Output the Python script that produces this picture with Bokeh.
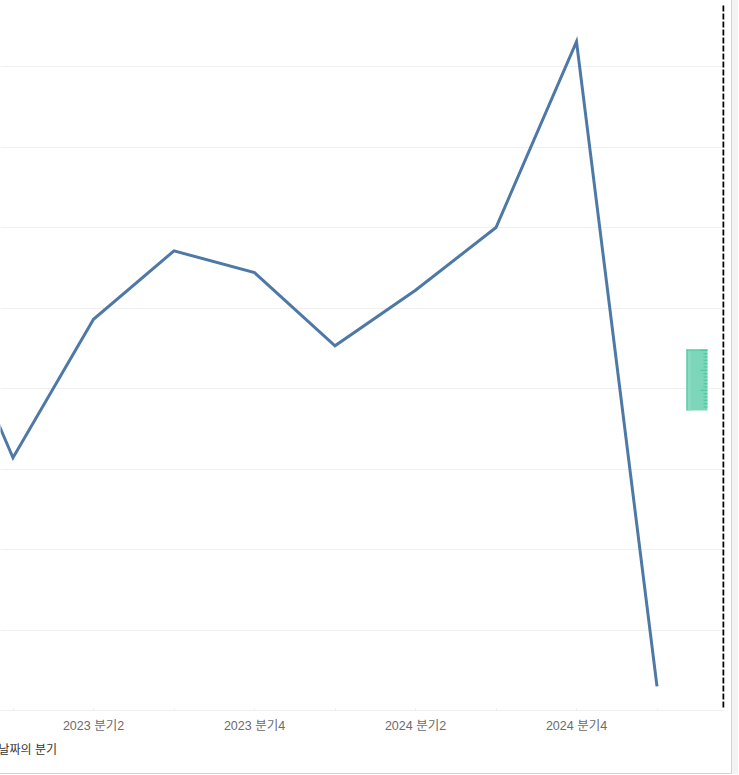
from bokeh.plotting import figure
from bokeh.models import FixedTicker, BoxAnnotation, Range1d, Title
from bokeh.embed import file_html
from bokeh.resources import INLINE

quarters = ["2022 분기4", "2023 분기1", "2023 분기2", "2023 분기3", "2023 분기4",
            "2024 분기1", "2024 분기2", "2024 분기3", "2024 분기4", "2025 분기1"]
values = [5.47, 3.14, 4.86, 5.71, 5.44, 4.53, 5.22, 6.0, 8.31, 0.30]
shown_labels = ["2023 분기2", "2023 분기4", "2024 분기2", "2024 분기4"]
grid_values = [1, 2, 3, 4, 5, 6, 7, 8]
axis_title = "날짜의 분기"
xs = list(range(len(quarters)))

FONT = "Liberation Sans, Noto Sans CJK KR"
STEP = 80.5

p = figure(width=732, height=774, output_backend="svg", toolbar_location=None,
           x_range=Range1d(68 / STEP, (724 + 68) / STEP),
           y_range=Range1d(0, 710 / STEP),
           min_border_left=0, min_border_right=8, min_border_top=0, min_border_bottom=64,
           outline_line_color=None, background_fill_color="white", border_fill_color="white",
           margin=(0, 0, 0, 0),
           styles={"border-right": "1px solid #d4d4d4", "border-bottom": "1px solid #d4d4d4",
                   "box-shadow": "6px 0 0 #f3f3f3"})

p.yaxis.visible = False
p.ygrid.ticker = FixedTicker(ticks=grid_values)
p.ygrid.grid_line_color = "#f0f0f0"
p.xgrid.visible = False

ax = p.xaxis[0]
ax.ticker = FixedTicker(ticks=xs)
ax.major_label_overrides = {i: (q if q in shown_labels else "") for i, q in zip(xs, quarters)}
ax.major_label_text_font = FONT
ax.major_label_text_font_size = "12.5px"
ax.major_label_text_color = "#6b6b6b"
ax.major_label_standoff = 8
ax.axis_line_color = "#f0f0f0"
ax.major_tick_line_color = "#ececec"
ax.major_tick_in = 2
ax.major_tick_out = 0
ax.minor_tick_line_color = None

p.line(xs, values, line_color="#4e79a7", line_width=3, line_join="miter")

p.add_layout(Title(text=axis_title, align="left", offset=-2, text_font=FONT, text_font_size="12px",
                   text_font_style="normal", text_color="#333333", standoff=10), "below")

sep_x = (723 + 68) / STEP
p.segment([sep_x], [(710 - 5) / STEP], [sep_x], [(710 - 708) / STEP],
          line_color="black", line_width=2, line_dash="6 2")

def box(l, r, t, b, color, alpha=1.0):
    p.add_layout(BoxAnnotation(left=l, right=r, top=t, bottom=b,
                               left_units="canvas", right_units="canvas",
                               top_units="canvas", bottom_units="canvas",
                               fill_color=color, fill_alpha=alpha, line_color=None))

box(686, 707, 349, 410, "#7dd6b9")
box(687, 690, 350, 410, "#8bdac2")
box(686, 687, 349, 410, "#45c79f")
box(686, 707, 349, 350, "#45c79f")
for i in range(18):
    y = 349.3 + i * 10 / 3
    long_tick = i % 6 == 0
    box(700 if long_tick else 703, 707, y, y + 1, "#45c79f")

open("out.html", "w").write(file_html(p, INLINE))
